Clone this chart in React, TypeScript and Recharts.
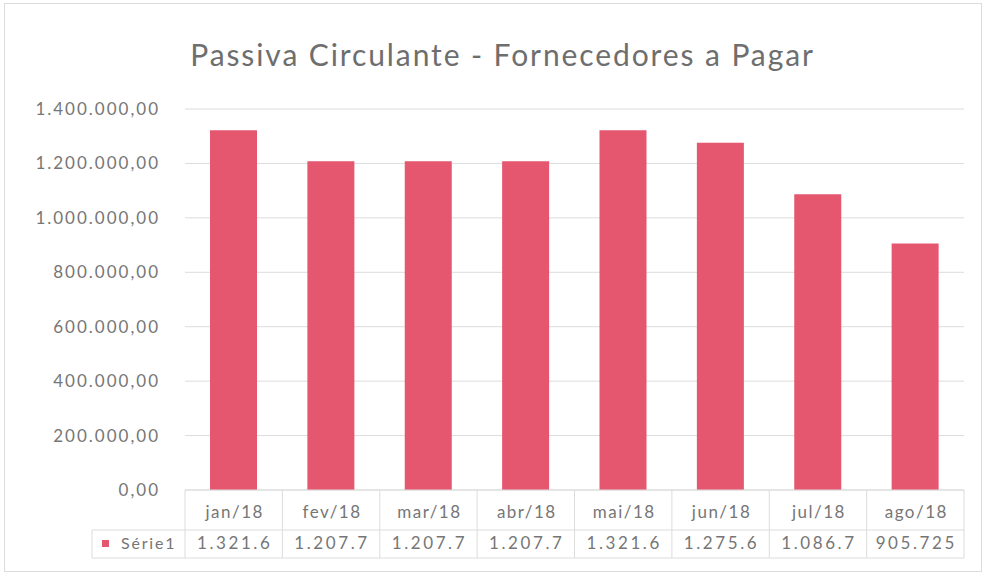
import { BarChart, Bar, XAxis, YAxis, CartesianGrid } from "recharts";

const months = ["jan/18", "fev/18", "mar/18", "abr/18", "mai/18", "jun/18", "jul/18", "ago/18"];
const serie1 = [1321600, 1207700, 1207700, 1207700, 1321600, 1275600, 1086700, 905725];
const yTicks = [0, 200000, 400000, 600000, 800000, 1000000, 1200000, 1400000];

const data = months.map((m, i) => ({ mes: m, serie1: serie1[i] }));

const W = 985;
const H = 578;
const margin = { top: 109, right: 21, bottom: 20, left: 0 };
const yWidth = 185;
const band = (W - margin.left - margin.right - yWidth) / months.length;

const grid = "#dcdcdc";
const textCol = "#767676";
const barCol = "#e5566f";
const font = "Lato, 'Open Sans', sans-serif";

// 1400000 -> "1.400.000,00"
const fmt = (v: number) => {
  const [int, dec] = v.toFixed(2).split(".");
  return int.replace(/\B(?=(\d{3})+(?!\d))/g, ".") + "," + dec;
};

// table cells are narrow, Excel cuts the text like "1.321.6"
const cellText = (v: number) => fmt(v).slice(0, 7);

const TableTick = (props: any) => {
  const { x, y, payload, index } = props;
  const left = x - band / 2;
  const r1 = 40;
  const r2 = 68;
  return (
    <g>
      <line x1={left} y1={y} x2={left} y2={y + r2} stroke={grid} />
      {index === months.length - 1 && (
        <line x1={left + band} y1={y} x2={left + band} y2={y + r2} stroke={grid} />
      )}
      <line x1={left} y1={y + r1} x2={left + band} y2={y + r1} stroke={grid} />
      <line x1={left} y1={y + r2} x2={left + band} y2={y + r2} stroke={grid} />
      <text x={x + 1} y={y + 28} textAnchor="middle" fill={textCol} fontSize={17} letterSpacing={1.5} fontFamily={font}>
        {payload.value}
      </text>
      <text x={x + 1} y={y + 59} textAnchor="middle" fill={textCol} fontSize={17} letterSpacing={2.6} fontFamily={font}>
        {cellText(serie1[index])}
      </text>
      {index === 0 && (
        <g>
          <line x1={left - 93} y1={y + r1} x2={left} y2={y + r1} stroke={grid} />
          <line x1={left - 93} y1={y + r2} x2={left} y2={y + r2} stroke={grid} />
          <line x1={left - 93} y1={y + r1} x2={left - 93} y2={y + r2} stroke={grid} />
          <rect x={left - 83} y={y + 50} width={7} height={7} fill={barCol} />
          <text x={left - 64} y={y + 59} fill={textCol} fontSize={16} letterSpacing={1.8} fontFamily={font}>
            Série1
          </text>
        </g>
      )}
    </g>
  );
};

export default function App() {
  return (
    <div style={{ position: "absolute", left: 0, top: 0, width: W, height: H, background: "#fff" }}>
      <div
        style={{
          position: "absolute",
          left: 4,
          top: 3,
          width: 976,
          height: 567,
          border: `1px solid ${grid}`,
        }}
      />
      <div
        style={{
          position: "absolute",
          left: 10,
          top: 36,
          width: W,
          textAlign: "center",
          fontFamily: font,
          fontSize: 30,
          letterSpacing: 1.9,
          color: "#6e6e6e",
        }}
      >
        Passiva Circulante - Fornecedores a Pagar
      </div>
      <div style={{ position: "absolute", left: 0, top: 0 }}>
        <BarChart width={W} height={H} data={data} margin={margin}>
          <CartesianGrid vertical={false} stroke={grid} />
          <YAxis
            width={yWidth}
            domain={[0, 1400000]}
            ticks={yTicks}
            tickFormatter={fmt}
            axisLine={false}
            tickLine={false}
            tickMargin={19}
            tick={{ fill: textCol, fontSize: 17, letterSpacing: 2, fontFamily: font }}
          />
          <XAxis
            dataKey="mes"
            height={68}
            tickLine={false}
            tickSize={0}
            tickMargin={0}
            axisLine={{ stroke: grid }}
            tick={<TableTick />}
            interval={0}
          />
          <Bar dataKey="serie1" fill={barCol} barSize={47} isAnimationActive={false} />
        </BarChart>
      </div>
    </div>
  );
}
